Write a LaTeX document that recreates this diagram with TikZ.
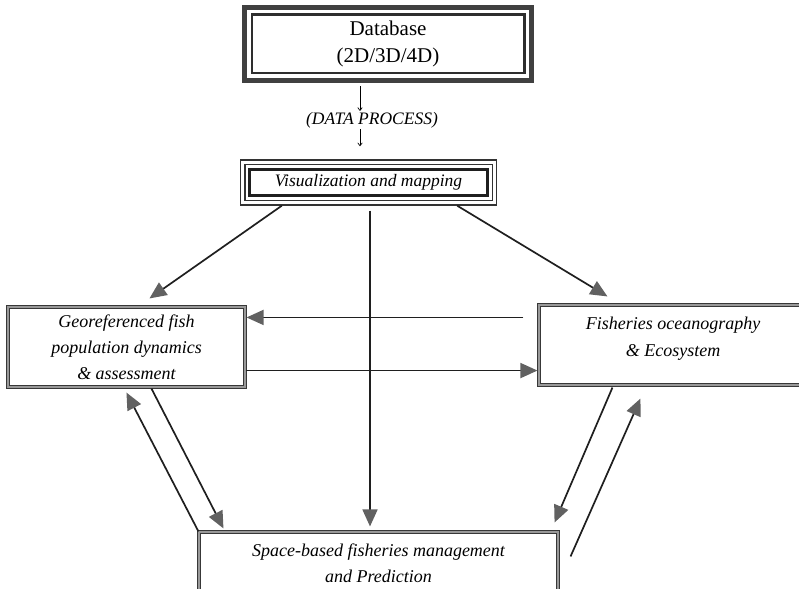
\documentclass[tikz,border=0pt]{standalone}
\usepackage{fontspec}
\setmainfont{Liberation Serif}
\usetikzlibrary{arrows.meta,calc}
\begin{document}
\begin{tikzpicture}[x=1pt,y=-1pt,
  boxtxt/.style={font=\itshape\fontsize{18}{26}\selectfont, align=center, inner sep=0pt},
  framebox/.style={draw=black!78, double=black!40, line width=1.1pt, double distance=1.4pt, inner sep=0pt},
  arr/.style={draw=black!88, line width=1.7pt, -{Triangle[length=17pt,width=15pt,color=black!62]}},
  smallarr/.style={draw=black, line width=0.7pt, -{To[length=3.5pt,width=5pt]}}
]
\useasboundingbox (0,0) rectangle (799,588);
\clip (0,0) rectangle (799,588);

% Database box (double frame)
\node[minimum width=292pt, minimum height=78pt, inner sep=0pt,
      font=\fontsize{21}{27}\selectfont, align=center] (db) at (388,44) {Database\\(2D/3D/4D)};
\draw[black!75, line width=4.5pt] ([shift={(2.5,2.5)}]db.north west) rectangle ([shift={(-2.5,-2.5)}]db.south east);
\draw[black!82, line width=2.6pt] ([shift={(10,10)}]db.north west) rectangle ([shift={(-10,-10)}]db.south east);

% data process label
\node[font=\itshape\fontsize{17.5}{20}\selectfont, inner sep=1pt] (dp) at (372,120) {(DATA PROCESS)};
\draw[smallarr] (db.south -| 360,0) ++(0,3) -- (dp.north -| 360,0);
\draw[smallarr] (dp.south -| 360,0) -- ++(0,17) coordinate (visin);

% Visualization box (triple frame)
\node[minimum width=257pt, minimum height=46pt, inner sep=0pt,
      font=\itshape\fontsize{17.5}{20}\selectfont] (vis) at (368.5,182.5) {Visualization and mapping};
\draw[black!80, line width=1.4pt] ([shift={(0.7,0.7)}]vis.north west) rectangle ([shift={(-0.7,-0.7)}]vis.south east);
\draw[black!80, line width=1.4pt] ([shift={(5,5)}]vis.north west) rectangle ([shift={(-5,-5)}]vis.south east);
\draw[black!88, line width=2.8pt] ([shift={(10,10)}]vis.north west) rectangle ([shift={(-10,-10)}]vis.south east);

% Georeferenced box
\node[framebox, minimum width=237pt, minimum height=80pt] (geo) at (126.5,347) {};
\node[boxtxt] (geotxt) at (126.5,347) {Georeferenced fish\\population dynamics\\\& assessment};

% Fisheries oceanography box
\node[framebox, minimum width=300pt, minimum height=80pt] (ocean) at (689,345) {};
\node[boxtxt, text depth=0pt] (oceantxt) at (673,337) {Fisheries oceanography\\[1.5pt]\& Ecosystem};

% Space-based box
\node[framebox, minimum width=359pt, minimum height=66pt] (space) at (378.5,565) {};
\node[boxtxt] (spacetxt) at (378.5,563) {Space-based fisheries management\\and Prediction};

% connectors
\draw[arr] ($(vis.south west)+(42,0)$) -- ($(geo.north west)+(142,-8)$);
\draw[arr] ($(vis.south)+(1.5,5)$) -- ($(space.north)+(-8.5,-5)$);
\draw[arr] ($(vis.south east)+(-40,0)$) -- ($(ocean.north west)+(69,-8)$);
\draw[arr] ($(ocean.north west)+(-15,13)$) -- ($(geo.north east)+(1,11)$);
\draw[arr] ($(geo.south east)+(0,-17)$) -- ($(ocean.south west)+(-1,-15)$);
\draw[arr] (space.north west) -- ($(geo.south west)+(119,5)$);
\draw[arr] ($(geo.south west)+(144,1)$) -- ($(space.north west)+(25,-3)$);
\draw[arr] ($(ocean.south west)+(74,2)$) -- ($(space.north east)+(-4,-9)$);
\draw[arr] ($(space.north east)+(12,25)$) -- ($(ocean.south west)+(102,13)$);
\end{tikzpicture}
\end{document}
